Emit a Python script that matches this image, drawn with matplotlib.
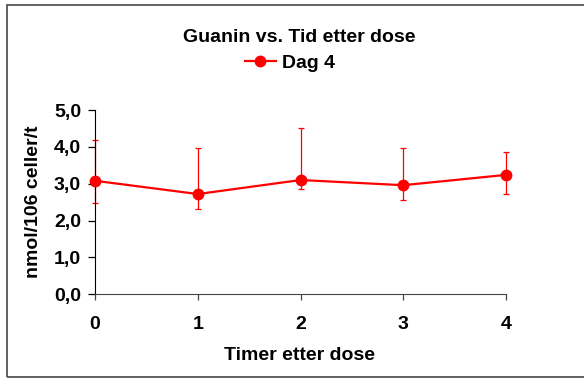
import matplotlib
matplotlib.use("Agg")
import matplotlib.pyplot as plt
from matplotlib.patches import Rectangle
import numpy as np

plt.rcParams['font.family'] = ['Liberation Sans', 'DejaVu Sans']

hours = [0, 1, 2, 3, 4]
values = [3.08, 2.72, 3.10, 2.96, 3.24]
err_upper = [4.18, 3.98, 4.51, 3.98, 3.85]
err_lower = [2.49, 2.32, 2.85, 2.57, 2.73]
yticks = [0.0, 1.0, 2.0, 3.0, 4.0, 5.0]
ytick_labels = ["0,0", "1,0", "2,0", "3,0", "4,0", "5,0"]

W, H = 584, 379
FS = 14
fig = plt.figure(figsize=(W/100, H/100), dpi=100)
fig.patch.set_facecolor('white')

# outer frame
fig.patches.append(Rectangle((7/W, 1-377/H), 1.0, (377-5)/H, transform=fig.transFigure,
                             fill=False, edgecolor='#555555', linewidth=1.3))

ax = fig.add_axes([95/W, 1-294.3/H, (506-95)/W, (294.3-110)/H])
v = np.array(values)
yerr = np.array([v - np.array(err_lower), np.array(err_upper) - v])
ax.errorbar(hours, values, yerr=yerr, fmt='none', ecolor='red', elinewidth=0.9,
            capsize=2.3, capthick=0.9, clip_on=False, zorder=2)
ax.plot(hours, values, color='red', linewidth=1.6, marker='o', markersize=7.5,
        label='Dag 4', clip_on=False, zorder=3)

ax.set_xlim(0, 4)
ax.set_ylim(0, 5)
ax.set_xticks(hours)
ax.set_xticklabels([str(h) for h in hours], fontsize=FS, fontweight='bold')
ax.set_yticks(yticks)
ax.set_yticklabels(ytick_labels, fontsize=FS, fontweight='bold')
for s in ['top', 'right']:
    ax.spines[s].set_visible(False)
ax.spines['left'].set_color('black')
ax.spines['bottom'].set_color('#444444')
ax.tick_params(axis='y', direction='out', length=5, width=0.9, pad=5)
ax.tick_params(axis='x', direction='out', length=4.5, width=0.9, pad=11, color='#444444')

ax.set_xlabel('Timer etter dose', fontsize=FS, fontweight='bold', va='center')
ax.xaxis.set_label_coords((300-95)/411, (294.3-356)/184.3)
ax.set_ylabel('nmol/106 celler/t', fontsize=FS, fontweight='bold', va='center')
ax.yaxis.set_label_coords((34-95)/411, 0.5)

fig.text(299/W, 1-37/H, 'Guanin vs. Tid etter dose', ha='center', va='center',
         fontsize=FS, fontweight='bold')
leg = fig.legend(loc='center', bbox_to_anchor=(290/W, 1-63/H), frameon=False,
                 prop={'size': FS, 'weight': 'bold'}, handlelength=1.6,
                 handletextpad=0.35)

fig.savefig('out.png', dpi=100)
